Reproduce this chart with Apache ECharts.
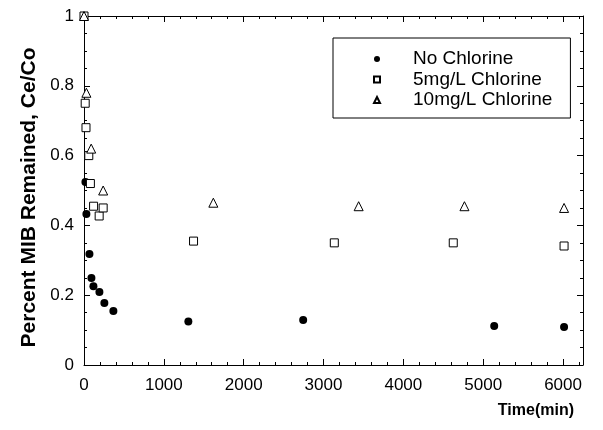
<!DOCTYPE html>
<html>
<head>
<meta charset="utf-8">
<script src="https://cdn.jsdelivr.net/npm/echarts@6/dist/echarts.min.js"></script>
<style>
  html, body { margin: 0; padding: 0; background: #fff; }
  #chart { width: 603px; height: 430px; }
</style>
</head>
<body>
<div id="chart"></div>
<script>
"use strict";
// 数据
var seriesNames = ['No Chlorine', '5mg/L Chlorine', '10mg/L Chlorine'];
var noChlorine = [[0, 1.0], [18, 0.524], [30, 0.433], [68, 0.318], [93, 0.249], [118, 0.226],
    [193, 0.209], [255, 0.178], [368, 0.155], [1307, 0.125], [2745, 0.129], [5138, 0.112], [6013, 0.109]];
var chlorine5 = [[0, 1.0], [15, 0.75], [25, 0.68], [60, 0.60], [80, 0.52], [120, 0.455],
    [190, 0.427], [240, 0.45], [1372, 0.355], [3135, 0.35], [4625, 0.35], [6013, 0.341]];
var chlorine10 = [[0, 1.0], [30, 0.78], [90, 0.62], [240, 0.50], [1620, 0.465],
    [3440, 0.455], [4765, 0.455], [6013, 0.45]];

var fontFam = '"Liberation Sans", Arial, sans-serif';

//四边都画框线和向内刻度
function makeAxis(type, pos, max, interval, minorSplit, showLabel) {
    return {
        type: 'value', position: pos, min: 0, max: max, interval: interval,
        axisLine: { show: true, onZero: false, lineStyle: { color: '#000', width: 1 } },
        axisTick: { show: true, inside: true, length: 6, lineStyle: { color: '#000' } },
        minorTick: { show: true, splitNumber: minorSplit, length: 3, lineStyle: { color: '#000' } },
        splitLine: { show: false },
        axisLabel: {
            show: showLabel, showMaxLabel: type === 'x' ? false : null,
            margin: type === 'x' ? 12 : 10,
            color: '#000', fontFamily: fontFam, fontSize: 17,
            formatter: function (v) { return String(v); }
        }
    };
}

function initChart() {
    var myChart = echarts.init(document.getElementById('chart'));
    var yMain = makeAxis('y', 'left', 1, 0.2, 4, true);
    yMain.name = 'Percent MIB Remained, Ce/Co';
    yMain.nameLocation = 'middle';
    yMain.nameGap = 43;
    yMain.nameTextStyle = { fontFamily: fontFam, fontSize: 21, fontWeight: 'bold', color: '#000', padding: [0, 14, 0, 0] };
    var option = {
        animation: false,
        backgroundColor: '#fff',
        title: {
            text: 'Time(min)',
            right: 24,
            top: 398,
            textStyle: { fontFamily: fontFam, fontSize: 16, fontWeight: 'bold', color: '#000' }
        },
        grid: { left: 84, right: 20, top: 16, bottom: 65 },
        legend: {
            left: 333,
            top: 38,
            orient: 'vertical',
            padding: [11, 18, 8, 40],
            itemGap: 0.5,
            itemWidth: 6,
            itemHeight: 6,
            borderColor: '#000',
            borderWidth: 1,
            textStyle: {
                fontFamily: fontFam, fontSize: 19, lineHeight: 20, color: '#000',
                padding: [0, 0, 0, 28]
            },
            data: [
                { name: seriesNames[0], icon: 'circle' },
                { name: seriesNames[1], icon: 'rect' },
                { name: seriesNames[2], icon: 'triangle' }
            ]
        },
        xAxis: [
            makeAxis('x', 'bottom', 6250, 1000, 5, true),
            makeAxis('x', 'top', 6250, 1000, 5, false)
        ],
        yAxis: [
            yMain,
            makeAxis('y', 'right', 1, 0.2, 4, false)
        ],
        series: [
            {
                name: seriesNames[0], type: 'scatter', data: noChlorine,
                symbol: 'circle', symbolSize: 8,
                itemStyle: { color: '#000', opacity: 1 }
            },
            {
                name: seriesNames[1], type: 'scatter', data: chlorine5,
                symbol: 'rect', symbolSize: 8,
                itemStyle: { color: '#fff', borderColor: '#000', borderWidth: 1, opacity: 1 }
            },
            {
                name: seriesNames[2], type: 'scatter', data: chlorine10,
                symbol: 'triangle', symbolSize: 9,
                itemStyle: { color: '#fff', borderColor: '#000', borderWidth: 1, opacity: 1 }
            }
        ]
    };
    myChart.setOption(option);
    return myChart;
}

var myChart = initChart();
window.onresize = function () {
    myChart.resize();
};
</script>
</body>
</html>
